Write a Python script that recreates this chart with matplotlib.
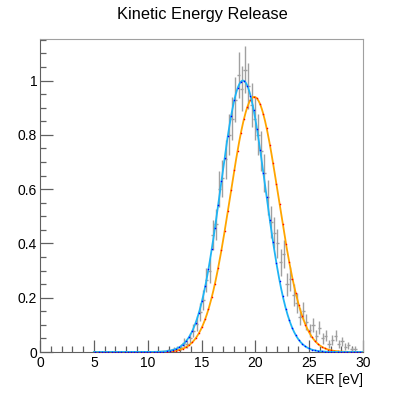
import numpy as np
import matplotlib
matplotlib.use("Agg")
import matplotlib.pyplot as plt
from matplotlib.ticker import MultipleLocator

plt.rcParams['font.family'] = ['Liberation Sans', 'DejaVu Sans']

# histogram (bin width 0.3), normalised counts
bin_width = 0.3
ker = [11.85, 12.15, 12.45, 12.75, 13.05, 13.35, 13.65, 13.95, 14.25, 14.55,
       14.85, 15.15, 15.45, 15.75, 16.05, 16.35, 16.65, 16.95, 17.25, 17.55,
       17.85, 18.15, 18.45, 18.75, 19.05, 19.35, 19.65, 19.95, 20.25, 20.55,
       20.85, 21.15, 21.45, 21.75, 22.05, 22.35, 22.65, 22.95, 23.25, 23.55,
       23.85, 24.15, 24.45, 24.75, 25.05, 25.35, 25.65, 25.95, 26.25, 26.55,
       26.85, 27.15, 27.45, 27.75, 28.05, 28.35, 28.65, 28.95, 29.25]
yld = [0.005, 0.004, 0.010, 0.012, 0.018, 0.035, 0.030, 0.052, 0.078, 0.105,
       0.148, 0.190, 0.265, 0.300, 0.430, 0.470, 0.600, 0.640, 0.710, 0.800,
       0.860, 0.930, 1.020, 0.970, 1.040, 0.980, 0.910, 0.860, 0.800, 0.740,
       0.660, 0.570, 0.480, 0.440, 0.400, 0.330, 0.360, 0.250, 0.270, 0.210,
       0.180, 0.130, 0.150, 0.110, 0.080, 0.100, 0.060, 0.090, 0.050, 0.060,
       0.030, 0.045, 0.060, 0.030, 0.040, 0.020, 0.025, 0.010, 0.012]
err_scale = 0.085  # sqrt(N) error in normalised units

# fitted gaussians (amp, mean, sigma)
fit_blue = (1.00, 18.85, 2.08)
fit_red = (0.94, 19.90, 2.25)

ker = np.array(ker)
yld = np.array(yld)
yerr = err_scale * np.sqrt(yld)

fig = plt.figure(figsize=(4.04, 3.93), dpi=100)
ax = fig.add_axes([40/404, 41/393, 323/404, 313.5/393])

ax.errorbar(ker, yld, xerr=bin_width/2, yerr=yerr, fmt='none',
            ecolor='#a0a0a0', elinewidth=1.0, capsize=0, zorder=2)

xs = np.arange(5.0, 30.0001, 0.1)
pts = np.arange(5.15, 30, 0.3)
def gaus(p, x):
    return p[0] * np.exp(-0.5 * ((x - p[1]) / p[2])**2)

ax.plot(xs, gaus(fit_red, xs), color='#ffa500', lw=1.3, zorder=3)
ax.plot(pts, gaus(fit_red, pts), ls='none', marker='s', ms=1.0, mew=0,
        color='#ff0000', zorder=4)
ax.plot(xs, gaus(fit_blue, xs), color='#20b4f4', lw=1.3, zorder=5)
ax.plot(pts, gaus(fit_blue, pts), ls='none', marker='s', ms=1.0, mew=0,
        color='#0000ff', zorder=6)

ax.set_xlim(0, 30)
ax.set_ylim(0, 1.155)
ax.xaxis.set_major_locator(MultipleLocator(5))
ax.xaxis.set_minor_locator(MultipleLocator(1))
ax.yaxis.set_major_locator(MultipleLocator(0.2))
ax.yaxis.set_minor_locator(MultipleLocator(0.05))
ax.set_xticks([0, 5, 10, 15, 20, 25, 30])
ax.set_xticklabels(['0', '5', '10', '15', '20', '25', '30'])
ax.set_yticks([0, 0.2, 0.4, 0.6, 0.8, 1.0])
ax.set_yticklabels(['0', '0.2', '0.4', '0.6', '0.8', '1'])
ax.tick_params(which='both', direction='in', top=False, right=False,
               color='#606060', labelsize=10)
ax.tick_params(which='major', length=9, width=0.9)
ax.tick_params(which='minor', length=4.5, width=0.9)
ax.tick_params(axis='x', pad=3)
ax.tick_params(axis='y', pad=2)
for s in ['left', 'bottom']:
    ax.spines[s].set_color('#606060')
for s in ['top', 'right']:
    ax.spines[s].set_color('#a0a0a0')

fig.text(0.5, 1 - 15/393, 'Kinetic Energy Release', ha='center', va='center',
         fontsize=11.8)
fig.text(363/404, 1 - 380/393, 'KER [eV]', ha='right', va='center', fontsize=10)

fig.savefig('out.png', dpi=100)
